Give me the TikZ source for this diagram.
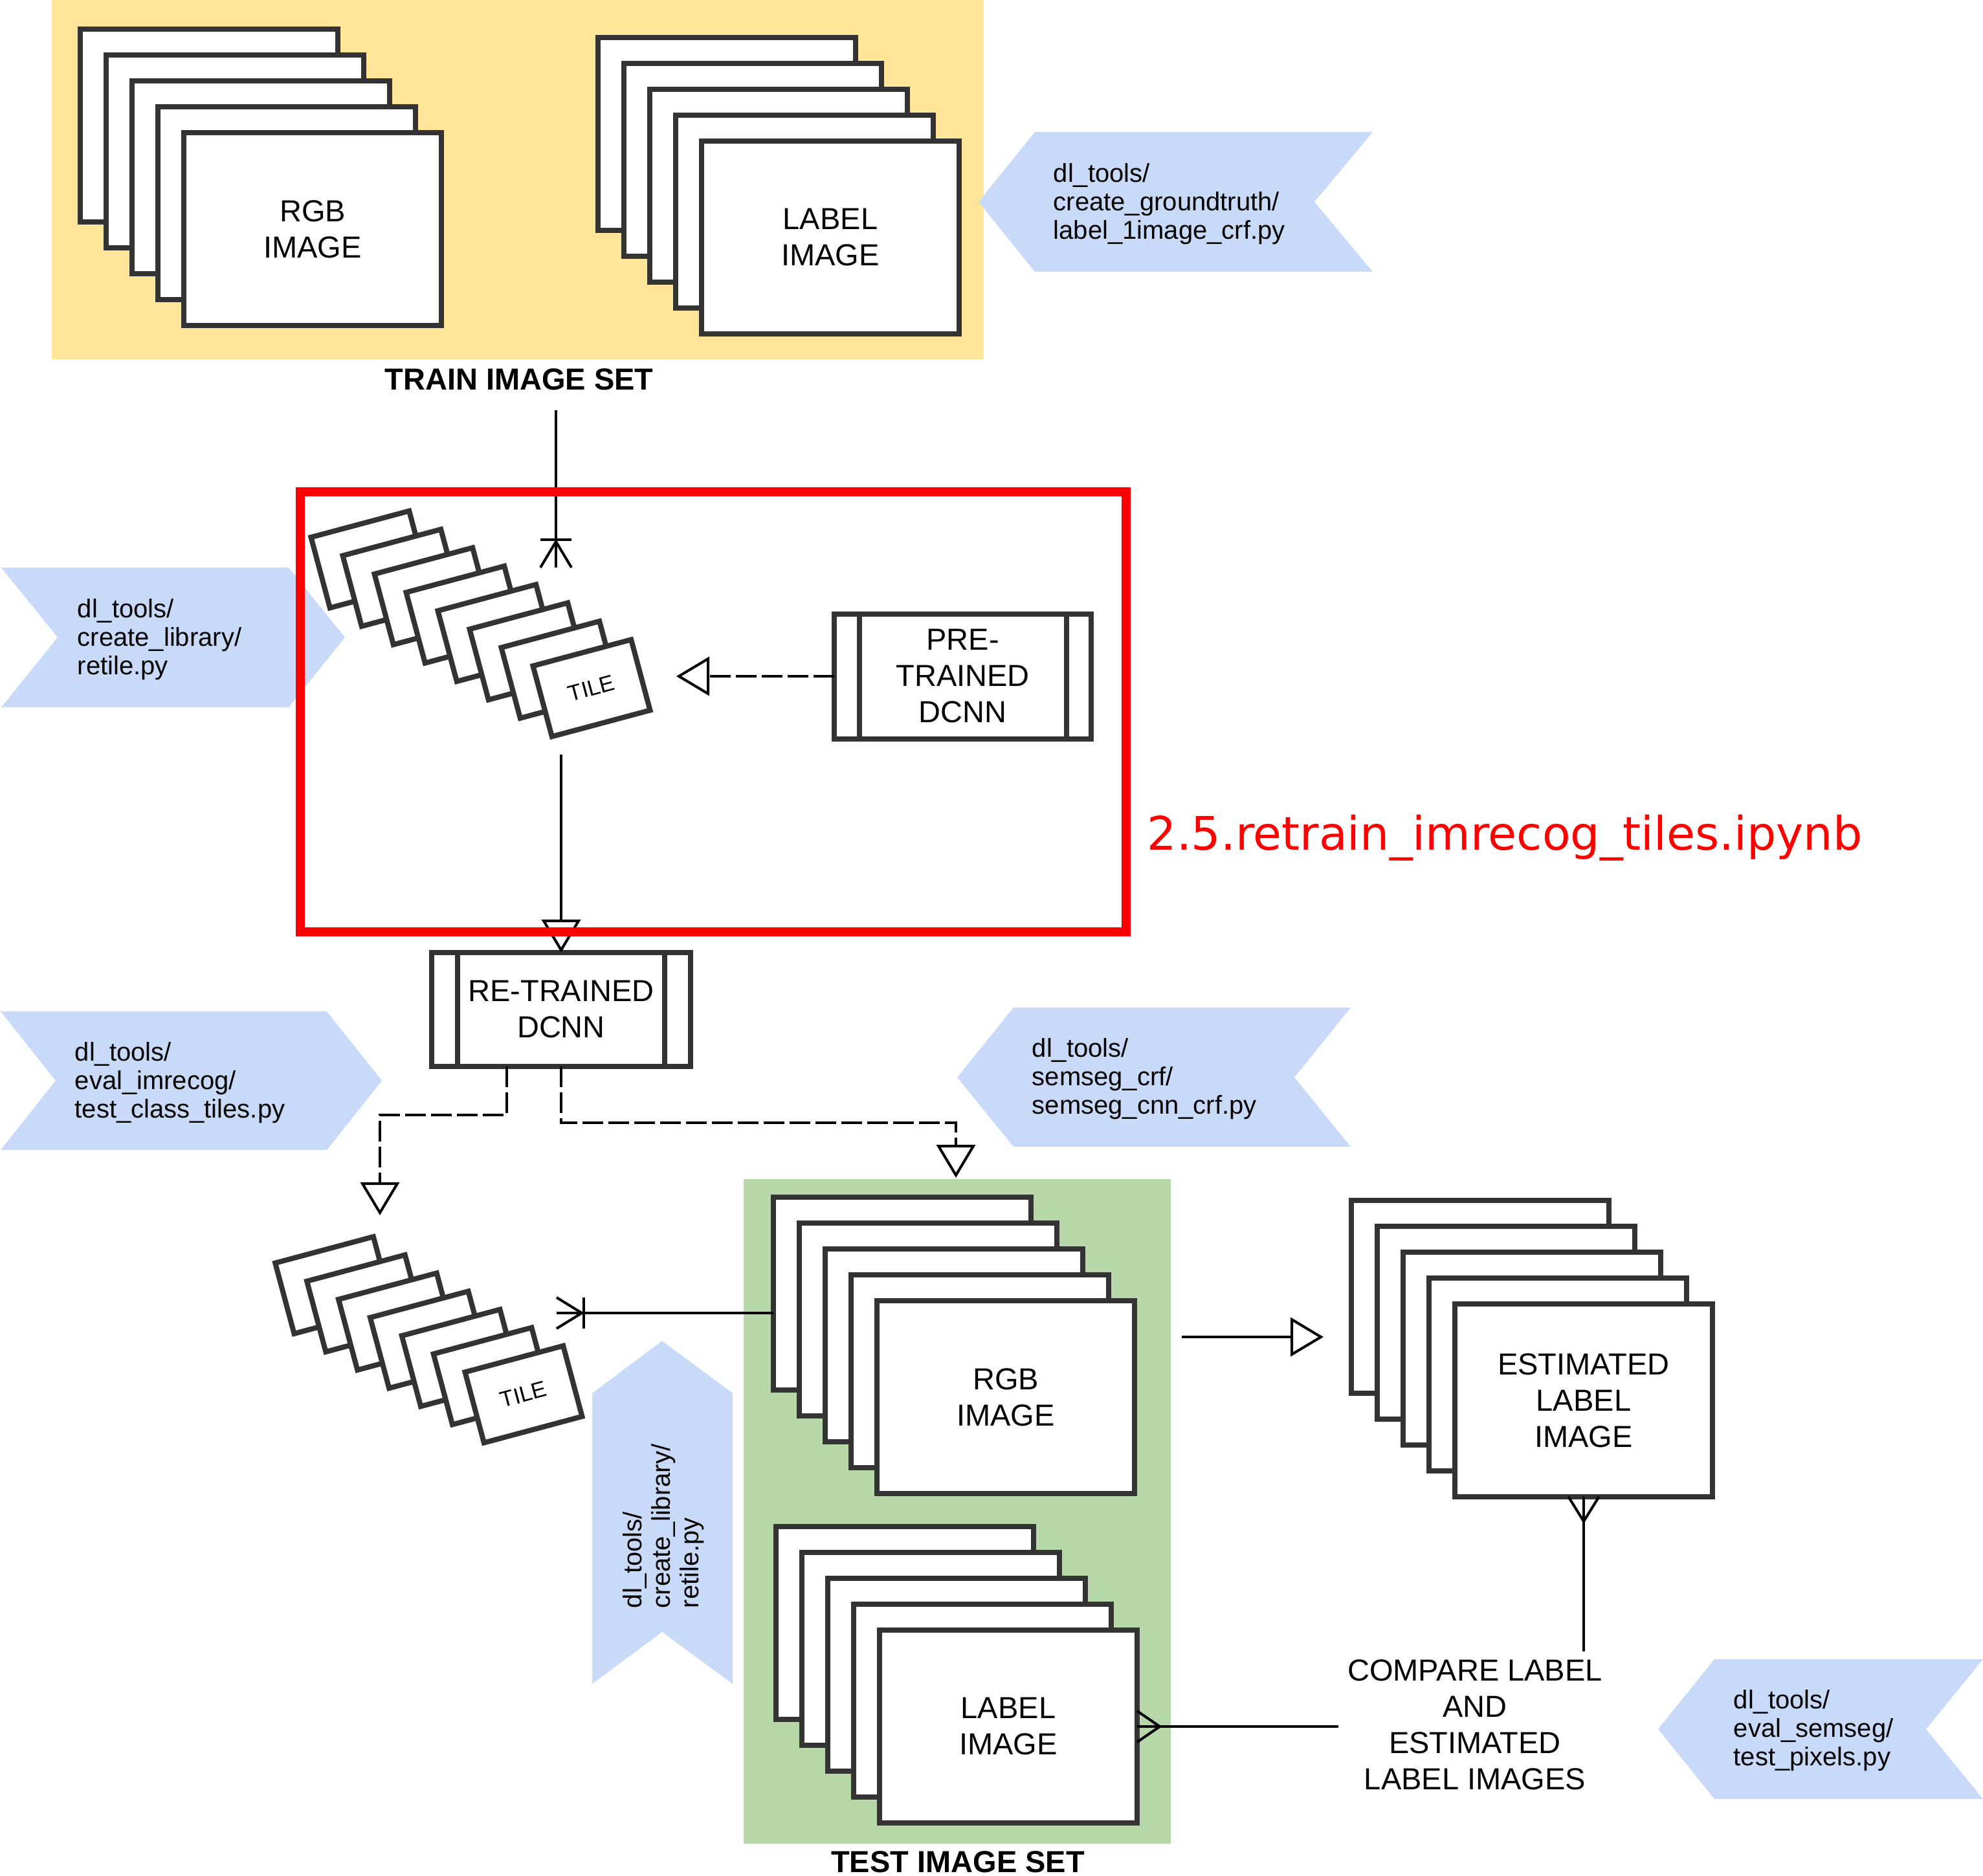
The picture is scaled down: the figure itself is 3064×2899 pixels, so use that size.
\documentclass[tikz,border=0pt]{standalone}
\usepackage{fontspec}
\setmainfont{Liberation Sans}
\newfontfamily\djv{DejaVu Sans}
\usetikzlibrary{arrows.meta,calc}
\definecolor{cbox}{HTML}{333333}
\definecolor{cblue}{HTML}{C9DAF8}
\definecolor{cyel}{HTML}{FFE599}
\definecolor{cgreen}{HTML}{B6D7A8}
\newcommand{\mainf}{\fontsize{11.75}{14}\selectfont}
\begin{document}
\begin{tikzpicture}[x=0.25pt,y=-0.25pt,
  imgrect/.style={draw=cbox, fill=white, line width=2pt, minimum width=99.5pt, minimum height=74.5pt, inner sep=0pt, outer sep=0pt, anchor=north west, align=center, font=\mainf},
  tilebox/.style={draw=cbox, fill=white, line width=2pt, minimum width=39.25pt, minimum height=28.25pt, inner sep=0pt, outer sep=0pt, rotate=15, font=\fontsize{8.6}{10}\selectfont},
  proc/.style={draw=cbox, fill=white, line width=2pt, inner sep=0pt, outer sep=0pt, align=center, font=\mainf},
  bar/.style={draw=cbox, line width=2pt},
  chevtxt/.style={inner sep=0pt, anchor=west, align=left, font=\fontsize{10}{11}\selectfont},
  conn/.style={line width=1pt, black},
  dashconn/.style={conn, dash pattern=on 7.9pt off 2.1pt},
  tri/.style={-{Triangle[open, length=12.75pt, width=15pt]}},
  setlbl/.style={font=\bfseries\mainf, anchor=base, inner sep=0pt}
]
\useasboundingbox (0,0) rectangle (3064,2899);
\fill[white] (0,0) rectangle (3064,2899);

% backgrounds
\node[fill=cyel, minimum width=360pt, minimum height=138.75pt, inner sep=0pt, outer sep=0pt] (trainbg) at (800,277.5) {};
\node[fill=cgreen, minimum width=165pt, minimum height=256.75pt, inner sep=0pt, outer sep=0pt] (testbg) at (1479,2335.5) {};

% chevrons
\fill[cblue] (1599,204) -- (2121,204) -- (2031,312) -- (2121,420) -- (1599,420) -- (1512,312) -- cycle;
\node[chevtxt] (c1) at (1627,315) {dl\_tools/\\create\_groundtruth/\\label\_1image\_crf.py};
\fill[cblue] (2,877) -- (446,877) -- (533,985) -- (446,1093) -- (2,1093) -- (89,985) -- cycle;
\node[chevtxt] (c2) at (119,988) {dl\_tools/\\create\_library/\\retile.py};
\fill[cblue] (1,1563) -- (505,1563) -- (590,1670) -- (505,1777) -- (1,1777) -- (86,1670) -- cycle;
\node[chevtxt] (c3) at (115,1673) {dl\_tools/\\eval\_imrecog/\\test\_class\_tiles.py};
\fill[cblue] (1566,1557) -- (2087,1557) -- (2000,1665) -- (2087,1772) -- (1566,1772) -- (1479,1665) -- cycle;
\node[chevtxt] (c4) at (1594,1667) {dl\_tools/\\semseg\_crf/\\semseg\_cnn\_crf.py};
\fill[cblue] (2649,2564) -- (3064,2564) -- (2976,2672) -- (3064,2780) -- (2649,2780) -- (2562,2672) -- cycle;
\node[chevtxt] (c5) at (2678,2674) {dl\_tools/\\eval\_semseg/\\test\_pixels.py};
\fill[cblue] (1023,2072) -- (1132,2153) -- (1132,2602) -- (1023,2522) -- (915,2602) -- (915,2153) -- cycle;
\node[chevtxt, rotate=90] (c6) at (1025,2486) {dl\_tools/\\create\_library/\\retile.py};

% train stacks
\foreach \i in {0,...,3} \node[imgrect] (trgb\i) at ({124+40*\i},{45.5+40*\i}) {};
\node[imgrect] (trgb4) at (284,205.5) {RGB\\IMAGE};
\foreach \i in {0,...,3} \node[imgrect] (tlab\i) at ({924+40*\i},{58+40*\i}) {};
\node[imgrect] (tlab4) at (1084,218) {LABEL\\IMAGE};
\node[setlbl] (trainlbl) at (802,603) {TRAIN IMAGE SET};

% tiles top
\foreach \i in {0,...,6} \node[tilebox] (ta\i) at ({571+49*\i},{864.5+28.4*\i}) {};
\node[tilebox] (ta7) at (914,1063.3) {TILE};

% pre-trained
\node[proc, minimum width=99.25pt, minimum height=48.25pt] (pre) at (1487.5,1045) {PRE-\\TRAINED\\DCNN};
\draw[bar] ([xshift=9.75pt]pre.north west) -- ([xshift=9.75pt]pre.south west);
\draw[bar] ([xshift=-9.5pt]pre.north east) -- ([xshift=-9.5pt]pre.south east);

% re-trained
\node[proc, minimum width=100pt, minimum height=44pt] (re) at (867,1560) {RE-TRAINED\\DCNN};
\draw[bar] ([xshift=10pt]re.north west) -- ([xshift=10pt]re.south west);
\draw[bar] ([xshift=-10pt]re.north east) -- ([xshift=-10pt]re.south east);

% tiles bottom
\foreach \i in {0,...,5} \node[tilebox] (tb\i) at ({515.7+48.9*\i},{1986+28.1*\i}) {};
\node[tilebox] (tb6) at (809,2154.6) {TILE};

% test stacks
\foreach \i in {0,...,3} \node[imgrect] (sr\i) at ({1195+40*\i},{1850+40*\i}) {};
\node[imgrect] (sr4) at (1355,2010) {RGB\\IMAGE};
\foreach \i in {0,...,3} \node[imgrect] (sl\i) at ({1199+40*\i},{2359+40*\i}) {};
\node[imgrect] (sl4) at (1359,2519) {LABEL\\IMAGE};
\node[setlbl] (testlbl) at (1480,2893) {TEST IMAGE SET};

% estimated
\foreach \i in {0,...,3} \node[imgrect] (es\i) at ({2088+40*\i},{1855+40*\i}) {};
\node[imgrect] (es4) at (2248,2015) {ESTIMATED\\LABEL\\IMAGE};

% compare
\node[font=\mainf, align=center, inner sep=0pt] (cmp) at (2279,2665) {COMPARE LABEL\\AND\\ESTIMATED\\LABEL IMAGES};

% connectors
\coordinate (tin0) at (859,634);
\coordinate (tin1) at (859,877);
\draw[conn] (tin0) -- (tin1);
\draw[conn] (tin1) ++(-24,-43) -- ++(48,0);
\draw[conn] (tin1) ++(-24,0) -- ++(24,-40) -- ++(24,40);

\coordinate (tout) at (867,1166);
\draw[conn,tri] (tout) -- (re.north);

\coordinate (pin) at (1045,1045);
\draw[dashconn,tri] (pre.west) -- (pin);

\coordinate (ttop) at (587,1878);
\draw[dashconn,tri] ([xshift=-21pt]re.south) |- ($(ttop)+(0,-155)$) -- (ttop);
\coordinate (gtop) at (1477,1820);
\draw[dashconn,tri] (re.south) |- ($(gtop)+(0,-85)$) -- (gtop);

\coordinate (tbin) at (860,2029);
\draw[conn] (sr0.west |- tbin) -- (tbin);
\draw[conn] (tbin) ++(42,-24) -- ++(0,48);
\draw[conn] (tbin) ++(0,-24) -- ++(39,24) -- ++(-39,24);

\coordinate (eout) at (1826,2066);
\coordinate (ein) at (2045,2066);
\draw[conn,tri] (eout) -- (ein);

\coordinate (ctop) at (2447,2552);
\draw[conn] (es4.south) -- (ctop);
\draw[conn] (es4.south) ++(-23.5,0) -- ++(23.5,38) -- ++(23.5,-38);

\coordinate (cleft) at (2068,2668);
\draw[conn] (sl4.east) -- (cleft);
\draw[conn] (sl4.east) ++(0,-24) -- ++(35,24) -- ++(-35,24);

% red box and label
\node[draw=red, line width=3.5pt, minimum width=319.125pt, minimum height=170pt, inner sep=0pt, outer sep=0pt] (redbox) at (1101.75,1100) {};
\node[font=\djv\fontsize{17.85}{20}\selectfont, text=red, anchor=base west, inner sep=0pt] (nb) at (1772,1313) {2.5.retrain\_imrecog\_tiles.ipynb};
\end{tikzpicture}
\end{document}
